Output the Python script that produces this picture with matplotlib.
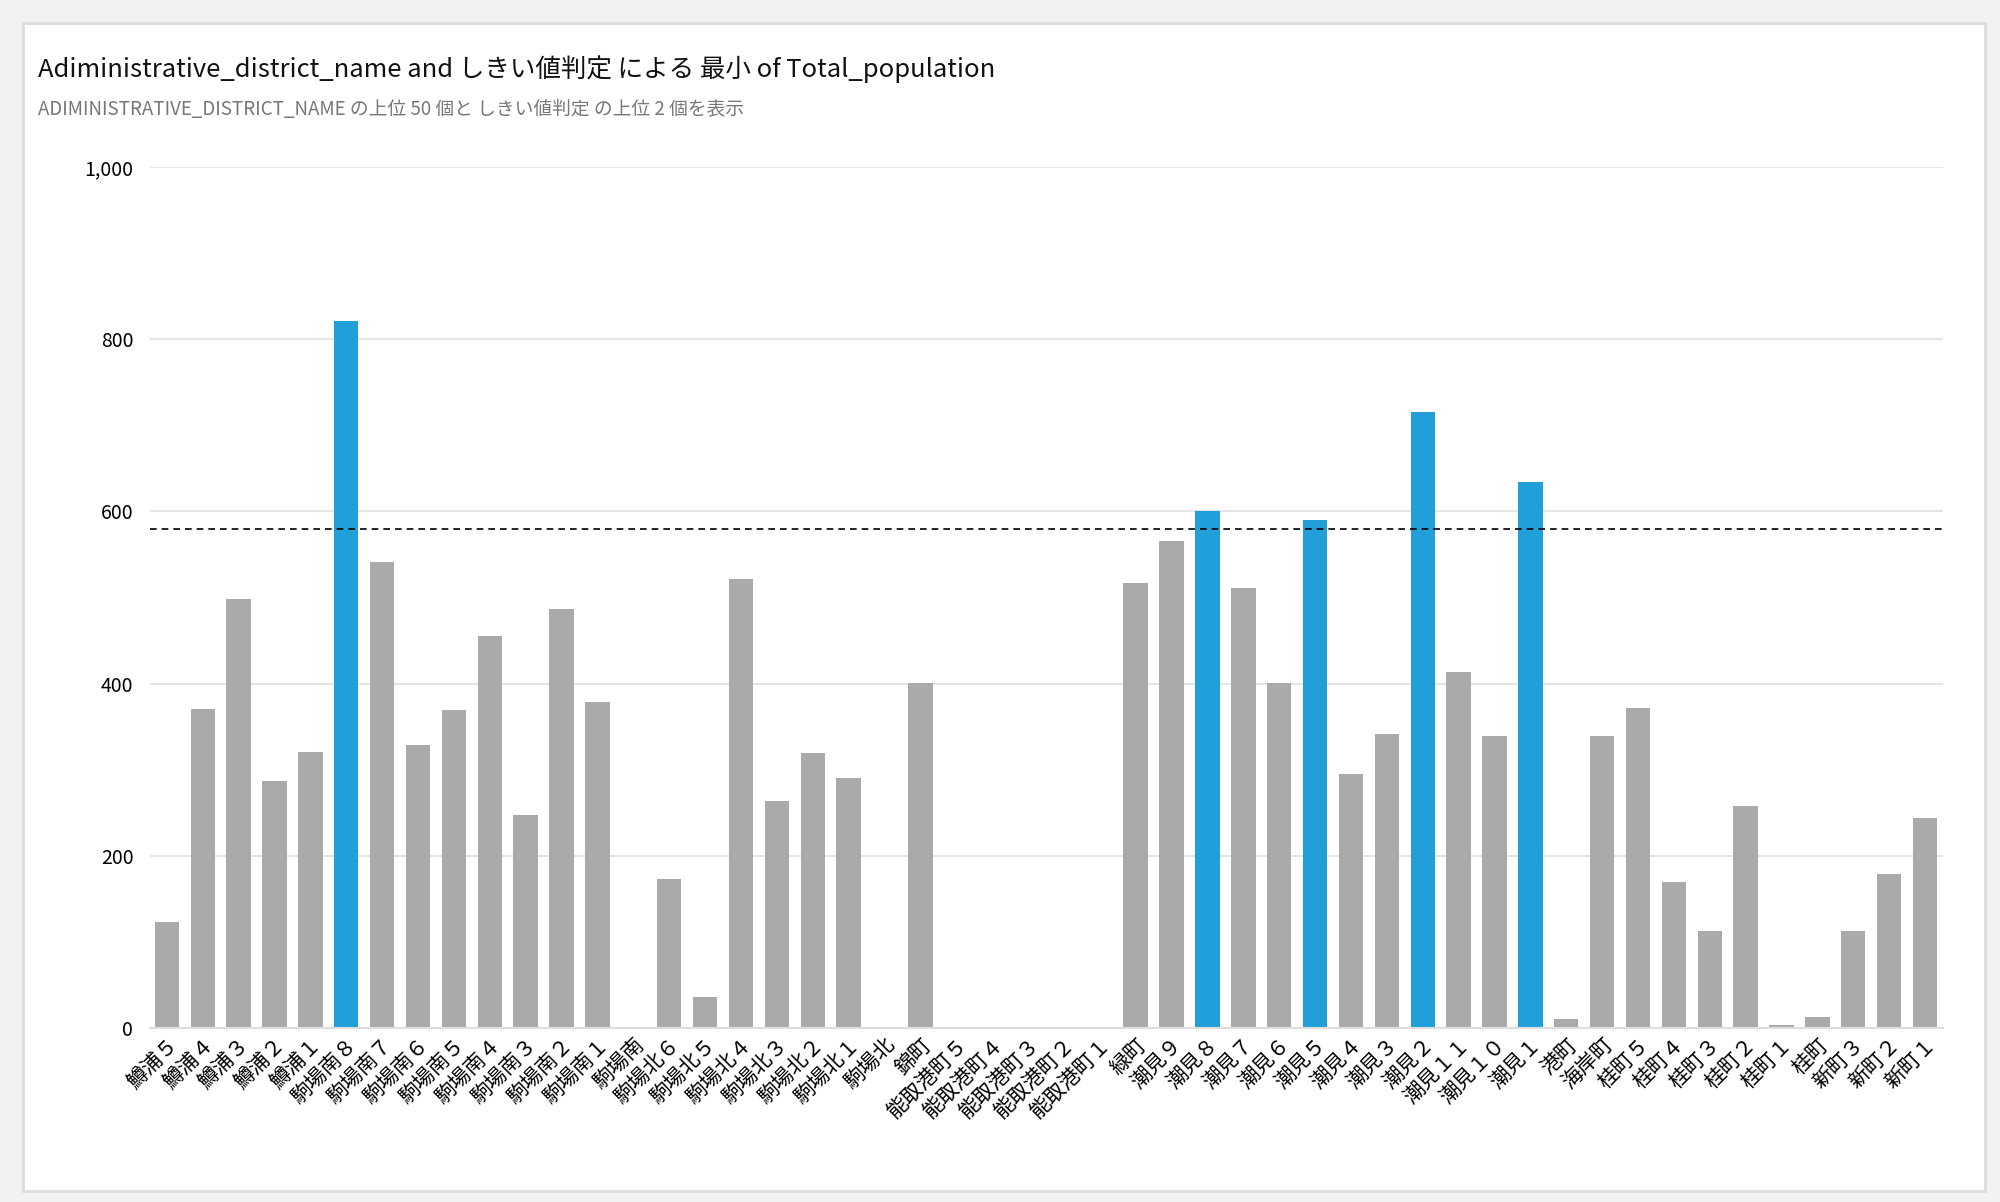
import matplotlib
matplotlib.use('Agg')
import matplotlib.pyplot as plt
from matplotlib.patches import Rectangle
from matplotlib.ticker import FuncFormatter

plt.rcParams['font.family'] = ['Noto Sans CJK JP', 'DejaVu Sans']

#data
districts = ['鱒浦５', '鱒浦４', '鱒浦３', '鱒浦２', '鱒浦１',
             '駒場南８', '駒場南７', '駒場南６', '駒場南５', '駒場南４', '駒場南３', '駒場南２', '駒場南１', '駒場南',
             '駒場北６', '駒場北５', '駒場北４', '駒場北３', '駒場北２', '駒場北１', '駒場北',
             '錦町', '能取港町５', '能取港町４', '能取港町３', '能取港町２', '能取港町１',
             '緑町', '潮見９', '潮見８', '潮見７', '潮見６', '潮見５', '潮見４', '潮見３', '潮見２',
             '潮見１１', '潮見１０', '潮見１', '港町', '海岸町',
             '桂町５', '桂町４', '桂町３', '桂町２', '桂町１', '桂町', '新町３', '新町２', '新町１']
population = [123, 370, 498, 287, 320,
              821, 541, 329, 369, 455, 247, 487, 379, 0,
              173, 36, 521, 264, 319, 290, 0,
              401, 0, 0, 0, 0, 0,
              517, 566, 600, 511, 401, 590, 295, 342, 716,
              413, 339, 634, 10, 339,
              372, 170, 113, 258, 3, 13, 113, 179, 244]
threshold = 580

gray = '#AAAAAA'
blue = '#209FD9'
colors = [blue if v > threshold else gray for v in population]

fig = plt.figure(figsize=(20, 12.02), dpi=100)
fig.patch.set_facecolor('#F2F2F2')
#white card behind everything
card = Rectangle((23 / 2000, 11 / 1202), 1962 / 2000, 1168 / 1202,
                 transform=fig.transFigure, facecolor='white',
                 edgecolor='#DDDDDD', linewidth=2, zorder=-10)
fig.add_artist(card)

ax = fig.add_axes([150 / 2000, (1202 - 1028) / 1202, (1943 - 150) / 2000, (1028 - 167) / 1202])
ax.set_zorder(5)
x = range(len(districts))
ax.bar(x, population, width=0.68, color=colors, zorder=2)
ax.axhline(threshold, color='black', linestyle=(0, (4, 3)), linewidth=1.2, zorder=3)

ax.set_ylim(0, 1000)
ax.set_xlim(-0.47, len(districts) - 0.5)
ax.set_yticks([0, 200, 400, 600, 800, 1000])
ax.yaxis.set_major_formatter(FuncFormatter(lambda v, p: f'{int(v):,}'))
ax.grid(axis='y', color='#E0E0E0', linewidth=1.2, zorder=0)
ax.set_xticks(list(x))
ax.set_xticklabels(districts, rotation=45, ha='right', rotation_mode='anchor', fontsize=15)
ax.tick_params(axis='y', length=0, labelsize=14, pad=12)
ax.tick_params(axis='x', length=0, pad=4)
for s in ['top', 'right', 'left']:
    ax.spines[s].set_visible(False)
ax.spines['bottom'].set_color('#DDDDDD')
ax.spines['bottom'].set_linewidth(1.5)
ax.set_facecolor('none')

fig.text(38 / 2000, 1 - 69 / 1202, 'Adiministrative_district_name and しきい値判定 による 最小 of Total_population',
         fontsize=18.4, color='#111111', va='center')
fig.text(38 / 2000, 1 - 109 / 1202, 'ADIMINISTRATIVE_DISTRICT_NAME の上位 50 個と しきい値判定 の上位 2 個を表示',
         fontsize=13.5, color='#777777', va='center')

plt.savefig('out.png', dpi=100)
